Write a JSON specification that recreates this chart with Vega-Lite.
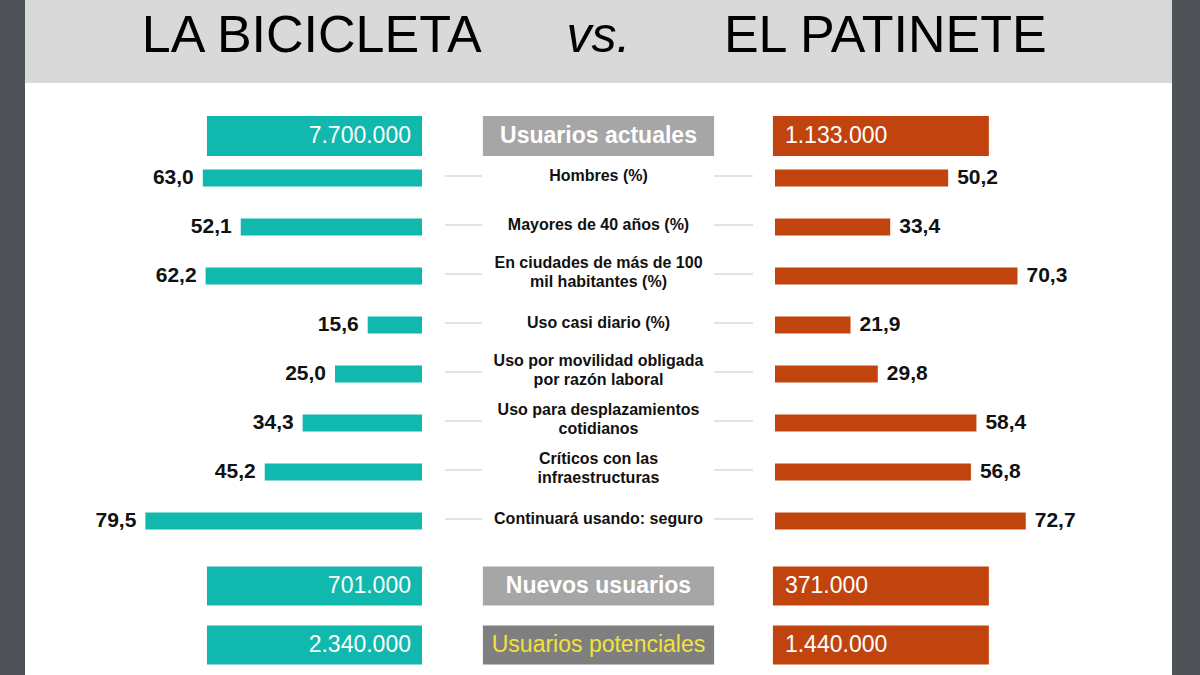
{
  "$schema": "https://vega.github.io/schema/vega-lite/v6.json",
  "background": "#4f5357",
  "padding": {"left": 25, "right": 28, "top": 0, "bottom": 0},
  "spacing": 0,
  "datasets": {
    "header": [
      {"side": "bici", "text": "LA BICICLETA"},
      {"side": "vs", "text": "vs."},
      {"side": "patin", "text": "EL PATINETE"}
    ],
    "top": [
      {"label": "Usuarios actuales", "bici": 7700000, "patin": 1133000}
    ],
    "metrics": [
      {"metric": "Hombres (%)", "bici": 63.0, "patin": 50.2},
      {"metric": "Mayores de 40 años (%)", "bici": 52.1, "patin": 33.4},
      {"metric": "En ciudades de más de 100\nmil habitantes (%)", "bici": 62.2, "patin": 70.3},
      {"metric": "Uso casi diario (%)", "bici": 15.6, "patin": 21.9},
      {"metric": "Uso por movilidad obligada\npor razón laboral", "bici": 25.0, "patin": 29.8},
      {"metric": "Uso para desplazamientos\ncotidianos", "bici": 34.3, "patin": 58.4},
      {"metric": "Críticos con las\ninfraestructuras", "bici": 45.2, "patin": 56.8},
      {"metric": "Continuará usando: seguro", "bici": 79.5, "patin": 72.7}
    ],
    "bottom": [
      {"label": "Nuevos usuarios", "bici": 701000, "patin": 371000},
      {"label": "Usuarios potenciales", "bici": 2340000, "patin": 1440000}
    ]
  },
  "vconcat": [
    {
      "width": 1147,
      "height": 83,
      "view": {"fill": "#d9d9d9", "stroke": null},
      "data": {"name": "header"},
      "layer": [
        {
          "transform": [{"filter": "datum.side !== 'vs'"}],
          "mark": {"type": "text", "fontSize": 52, "baseline": "alphabetic", "dy": 10, "color": "#000000"},
          "encoding": {
            "x": {"field": "side", "type": "nominal", "sort": null, "axis": null, "scale": {"type": "point", "domain": ["bici", "vs", "patin"], "padding": 1.03}},
            "text": {"field": "text"}
          }
        },
        {
          "transform": [{"filter": "datum.side === 'vs'"}],
          "mark": {"type": "text", "fontSize": 50, "fontStyle": "italic", "baseline": "alphabetic", "dy": 10, "color": "#000000"},
          "encoding": {
            "x": {"field": "side", "type": "nominal", "sort": null, "axis": null},
            "text": {"field": "text"}
          }
        }
      ]
    },
    {
      "spacing": 0,
      "bounds": "flush",
      "hconcat": [
        {
          "width": 397, "height": 75,
          "data": {"name": "top"},
          "encoding": {"y": {"field": "label", "type": "nominal", "sort": null, "axis": null, "scale": {"type": "band", "paddingInner": 0, "paddingOuter": 0.4375, "align": 0.943}}},
          "layer": [
            {
              "mark": {"type": "bar", "color": "#10b8ad"},
              "encoding": {
                "x": {"datum": 0, "type": "quantitative", "axis": null, "scale": {"domain": [0, 114.1], "reverse": true, "nice": false, "zero": false}},
                "x2": {"datum": 61.8}
              }
            },
            {
              "mark": {"type": "text", "align": "right", "dx": -11, "baseline": "middle", "fontSize": 23, "color": "#ffffff"},
              "encoding": {
                "x": {"datum": 0, "type": "quantitative", "axis": null},
                "text": {"field": "bici", "type": "quantitative", "format": ",d"}
              }
            }
          ]
        },
        {
          "width": 353, "height": 75,
          "data": {"name": "top"},
          "encoding": {"y": {"field": "label", "type": "nominal", "sort": null, "axis": null, "scale": {"type": "band", "paddingInner": 0, "paddingOuter": 0.4375, "align": 0.943}}},
          "layer": [
            {
              "mark": {"type": "bar", "color": "#a6a6a6"},
              "encoding": {
                "x": {"datum": -0.655, "type": "quantitative", "axis": null, "scale": {"domain": [-1, 1], "nice": false, "zero": false}},
                "x2": {"datum": 0.655}
              }
            },
            {
              "mark": {"type": "text", "align": "center", "baseline": "middle", "fontSize": 23, "fontWeight": "bold", "color": "#ffffff"},
              "encoding": {
                "x": {"datum": 0, "type": "quantitative", "axis": null},
                "text": {"field": "label"}
              }
            }
          ]
        },
        {
          "width": 397, "height": 75,
          "data": {"name": "top"},
          "encoding": {"y": {"field": "label", "type": "nominal", "sort": null, "axis": null, "scale": {"type": "band", "paddingInner": 0, "paddingOuter": 0.4375, "align": 0.943}}},
          "layer": [
            {
              "mark": {"type": "bar", "color": "#c1440e"},
              "encoding": {
                "x": {"datum": -0.6, "type": "quantitative", "axis": null, "scale": {"domain": [0, 115.1], "nice": false, "zero": false}},
                "x2": {"datum": 62.0}
              }
            },
            {
              "mark": {"type": "text", "align": "left", "dx": 12, "baseline": "middle", "fontSize": 23, "color": "#ffffff"},
              "encoding": {
                "x": {"datum": -0.6, "type": "quantitative", "axis": null},
                "text": {"field": "patin", "type": "quantitative", "format": ",d"}
              }
            }
          ]
        }
      ]
    },
    {
      "spacing": 0,
      "bounds": "flush",
      "hconcat": [
        {
          "width": 397, "height": 390,
          "data": {"name": "metrics"},
          "encoding": {"y": {"field": "metric", "type": "nominal", "sort": null, "axis": null, "scale": {"type": "band", "paddingInner": 0.653, "paddingOuter": 0.306, "align": 0.383}}},
          "layer": [
            {
              "mark": {"type": "bar", "color": "#10b8ad"},
              "encoding": {
                "x": {"field": "bici", "type": "quantitative", "axis": null, "scale": {"domain": [0, 114.1], "reverse": true, "nice": false}}
              }
            },
            {
              "mark": {"type": "text", "align": "right", "dx": -9, "baseline": "middle", "fontSize": 21, "fontWeight": "bold", "color": "#111111"},
              "encoding": {
                "x": {"field": "bici", "type": "quantitative", "axis": null},
                "text": {"field": "bici", "type": "quantitative", "format": ".1f"}
              }
            }
          ]
        },
        {
          "width": 353, "height": 390,
          "data": {"name": "metrics"},
          "encoding": {"y": {"field": "metric", "type": "nominal", "sort": null, "axis": null, "scale": {"type": "band", "paddingInner": 0.653, "paddingOuter": 0.306, "align": 0.383}}},
          "layer": [
            {
              "mark": {"type": "rule", "color": "#c8c8c8", "strokeWidth": 1.2, "yOffset": -2},
              "encoding": {
                "x": {"datum": -0.87, "type": "quantitative", "axis": null, "scale": {"domain": [-1, 1], "nice": false, "zero": false}},
                "x2": {"datum": -0.66}
              }
            },
            {
              "mark": {"type": "rule", "color": "#c8c8c8", "strokeWidth": 1.2, "yOffset": -2},
              "encoding": {
                "x": {"datum": 0.654, "type": "quantitative", "axis": null},
                "x2": {"datum": 0.875}
              }
            },
            {
              "transform": [{"filter": "indexof(datum.metric, '\\n') < 0"}],
              "mark": {"type": "text", "align": "center", "baseline": "middle", "dy": -2, "fontSize": 16, "fontWeight": "bold", "color": "#111111"},
              "encoding": {
                "x": {"datum": 0, "type": "quantitative", "axis": null},
                "text": {"field": "metric"}
              }
            },
            {
              "transform": [{"filter": "indexof(datum.metric, '\\n') >= 0"}],
              "mark": {"type": "text", "align": "center", "baseline": "middle", "dy": -13, "fontSize": 16, "fontWeight": "bold", "lineBreak": "\n", "lineHeight": 19, "color": "#111111"},
              "encoding": {
                "x": {"datum": 0, "type": "quantitative", "axis": null},
                "text": {"field": "metric"}
              }
            }
          ]
        },
        {
          "width": 397, "height": 390,
          "data": {"name": "metrics"},
          "encoding": {"y": {"field": "metric", "type": "nominal", "sort": null, "axis": null, "scale": {"type": "band", "paddingInner": 0.653, "paddingOuter": 0.306, "align": 0.383}}},
          "layer": [
            {
              "mark": {"type": "bar", "color": "#c1440e"},
              "encoding": {
                "x": {"field": "patin", "type": "quantitative", "axis": null, "scale": {"domain": [0, 115.1], "nice": false}}
              }
            },
            {
              "mark": {"type": "text", "align": "left", "dx": 9, "baseline": "middle", "fontSize": 21, "fontWeight": "bold", "color": "#111111"},
              "encoding": {
                "x": {"field": "patin", "type": "quantitative", "axis": null},
                "text": {"field": "patin", "type": "quantitative", "format": ".1f"}
              }
            }
          ]
        }
      ]
    },
    {
      "spacing": 0,
      "bounds": "flush",
      "hconcat": [
        {
          "width": 397, "height": 127,
          "data": {"name": "bottom"},
          "encoding": {"y": {"field": "label", "type": "nominal", "sort": null, "axis": null, "scale": {"type": "band", "paddingInner": 0.339, "paddingOuter": 0.246, "align": 0.638}}},
          "layer": [
            {
              "mark": {"type": "bar", "color": "#10b8ad"},
              "encoding": {
                "x": {"datum": 0, "type": "quantitative", "axis": null, "scale": {"domain": [0, 114.1], "reverse": true, "nice": false, "zero": false}},
                "x2": {"datum": 61.8}
              }
            },
            {
              "mark": {"type": "text", "align": "right", "dx": -11, "baseline": "middle", "fontSize": 23, "color": "#ffffff"},
              "encoding": {
                "x": {"datum": 0, "type": "quantitative", "axis": null},
                "text": {"field": "bici", "type": "quantitative", "format": ",d"}
              }
            }
          ]
        },
        {
          "width": 353, "height": 127,
          "data": {"name": "bottom"},
          "encoding": {"y": {"field": "label", "type": "nominal", "sort": null, "axis": null, "scale": {"type": "band", "paddingInner": 0.339, "paddingOuter": 0.246, "align": 0.638}}},
          "layer": [
            {
              "mark": {"type": "bar"},
              "encoding": {
                "x": {"datum": -0.655, "type": "quantitative", "axis": null, "scale": {"domain": [-1, 1], "nice": false, "zero": false}},
                "x2": {"datum": 0.655},
                "color": {"condition": {"test": "datum.label === 'Usuarios potenciales'", "value": "#7f7f7f"}, "value": "#a6a6a6"}
              }
            },
            {
              "transform": [{"filter": "datum.label === 'Nuevos usuarios'"}],
              "mark": {"type": "text", "align": "center", "baseline": "middle", "fontSize": 23, "fontWeight": "bold", "color": "#ffffff"},
              "encoding": {
                "x": {"datum": 0, "type": "quantitative", "axis": null},
                "text": {"field": "label"}
              }
            },
            {
              "transform": [{"filter": "datum.label === 'Usuarios potenciales'"}],
              "mark": {"type": "text", "align": "center", "baseline": "middle", "fontSize": 23, "color": "#f3e23a"},
              "encoding": {
                "x": {"datum": 0, "type": "quantitative", "axis": null},
                "text": {"field": "label"}
              }
            }
          ]
        },
        {
          "width": 397, "height": 127,
          "data": {"name": "bottom"},
          "encoding": {"y": {"field": "label", "type": "nominal", "sort": null, "axis": null, "scale": {"type": "band", "paddingInner": 0.339, "paddingOuter": 0.246, "align": 0.638}}},
          "layer": [
            {
              "mark": {"type": "bar", "color": "#c1440e"},
              "encoding": {
                "x": {"datum": -0.6, "type": "quantitative", "axis": null, "scale": {"domain": [0, 115.1], "nice": false, "zero": false}},
                "x2": {"datum": 62.0}
              }
            },
            {
              "mark": {"type": "text", "align": "left", "dx": 12, "baseline": "middle", "fontSize": 23, "color": "#ffffff"},
              "encoding": {
                "x": {"datum": -0.6, "type": "quantitative", "axis": null},
                "text": {"field": "patin", "type": "quantitative", "format": ",d"}
              }
            }
          ]
        }
      ]
    }
  ],
  "config": {
    "font": "Liberation Sans",
    "view": {"stroke": null, "fill": "#ffffff"},
    "concat": {"spacing": 0},
    "locale": {"number": {"decimal": ",", "thousands": ".", "grouping": [3], "currency": ["", " €"]}}
  }
}
